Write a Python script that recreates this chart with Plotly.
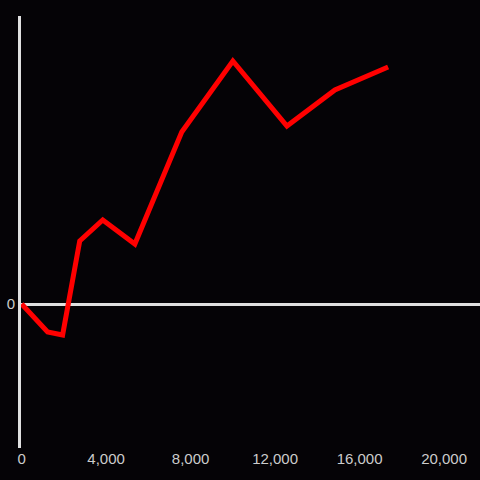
import plotly.graph_objects as go

x_vals = [0, 1230, 1940, 2750, 3840, 5360, 7580, 10000, 12560, 14830, 17350]
y_vals = [0, -28, -31, 63, 84, 60, 172, 243, 178, 214, 237]
x_ticks = [0, 4000, 8000, 12000, 16000, 20000]
x_tick_text = ["0", "4,000", "8,000", "12,000", "16,000", "20,000"]

fig = go.Figure(go.Scatter(x=x_vals, y=y_vals, mode="lines",
                           line=dict(color="#ff0000", width=5)))
fig.update_layout(
    width=480, height=480,
    paper_bgcolor="#050306", plot_bgcolor="#050306",
    margin=dict(l=21, r=0, t=16, b=32, autoexpand=False),
    showlegend=False,
    font=dict(family="Liberation Sans, Arial", size=15, color="#cccccc"),
    xaxis=dict(range=[-30, 21700], tickvals=x_ticks, ticktext=x_tick_text,
               showgrid=False, zeroline=False, showline=False, ticks=""),
    yaxis=dict(range=[-144, 288], tickvals=[0], ticktext=["0"],
               showgrid=False, zeroline=True, zerolinecolor="#e0e0e0",
               zerolinewidth=3, showline=True, linecolor="#e0e0e0",
               linewidth=3, ticks=""),
)
fig.write_html("out.html", config={"displayModeBar": False},
               post_script="document.body.style.margin='0';document.body.style.background='#050306';")
